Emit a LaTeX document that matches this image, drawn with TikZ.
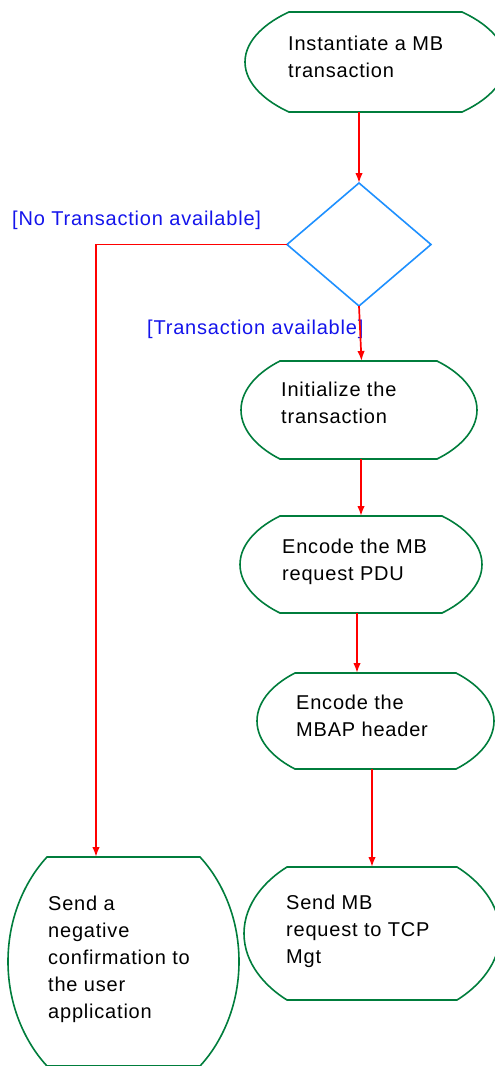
\documentclass[tikz,border=0pt]{standalone}
\usepackage{fontspec}
\setmainfont{Liberation Sans}[LetterSpace=4]
\usetikzlibrary{arrows.meta,calc,shapes.geometric}
\definecolor{termgreen}{RGB}{0,125,60}
\definecolor{decblue}{RGB}{30,144,255}
\definecolor{lblblue}{RGB}{20,20,235}
\newcommand\termshape[7]{%
  \pgfmathsetmacro\tsmid{(#6+#7)/2}%
  \pgfmathsetmacro\tsdxl{#3-#2}%
  \pgfmathsetmacro\tsdxr{#5-#4}%
  \pgfmathsetmacro\tsh{(#7-#6)/2}%
  \draw[term] (#3,#6) -- (#4,#6)
    .. controls ({#4+0.5*\tsdxr},{#6+0.2*\tsh}) and (#5,{\tsmid-0.45*\tsh}) .. (#5,\tsmid)
    .. controls (#5,{\tsmid+0.45*\tsh}) and ({#4+0.5*\tsdxr},{#7-0.2*\tsh}) .. (#4,#7)
    -- (#3,#7)
    .. controls ({#3-0.5*\tsdxl},{#7-0.2*\tsh}) and (#2,{\tsmid+0.45*\tsh}) .. (#2,\tsmid)
    .. controls (#2,{\tsmid-0.45*\tsh}) and ({#3-0.5*\tsdxl},{#6+0.2*\tsh}) .. cycle;
  \node[inner sep=0pt, outer sep=0pt, minimum width={(#5-#2)*1pt}, minimum height={(#7-#6)*1pt}] (#1) at ({(#2+#5)/2},\tsmid) {};
}
\begin{document}
\begin{tikzpicture}[x=1pt,y=-1pt,
  term/.style={draw=termgreen, line width=1.6pt},
  txt/.style={anchor=base west, align=left, inner sep=0pt, font=\fontsize{20}{27}\selectfont, text=black},
  lbl/.style={anchor=base west, inner sep=0pt, font=\fontsize{20}{27}\selectfont, text=lblblue},
  flow/.style={draw=red, line width=1.7pt, -{Latex[length=10pt,width=7.5pt]}},
  decision/.style={diamond, draw=decblue, line width=1.6pt, minimum width=144pt, minimum height=123pt, inner sep=0pt, outer sep=0pt}]
\clip (0,0) rectangle (495,1066);

\termshape{n1}{245}{289}{462}{506}{12}{112}
\node[decision] (dec) at (359,244.5) {};
\termshape{init}{241}{280}{437}{477}{361}{459}
\termshape{enc}{240}{280}{442}{482}{516}{613}
\termshape{mbap}{257}{295}{456}{494}{673}{769}
\termshape{send}{244}{287}{457}{500}{867}{1000}
\termshape{neg}{8}{47}{200}{239}{857}{1066}

\node[txt] (n1t) at (288,77) {Instantiate a MB\\transaction};
\node[txt] (initt) at (281,423) {Initialize the\\transaction};
\node[txt] (enct) at (282,580) {Encode the MB\\request PDU};
\node[txt] (mbapt) at (296,736) {Encode the\\MBAP header};
\node[txt] (sendt) at (286,963) {Send MB\\request to TCP\\Mgt};
\node[txt] (negt) at (48,1018) {Send a\\negative\\confirmation to\\the user\\application};

\node[lbl] (lno) at (12,225) {[No Transaction available]};
\node[lbl] (lyes) at (147,334) {[Transaction available]};

\draw[flow] (n1.south -| dec.north) -- (dec.north);
\draw[flow] (dec.south) -- ([xshift=2.5pt]init.north);
\draw[flow] (dec.west) -| ([xshift=-27.5pt]neg.north);
\draw[flow] (enc.north |- init.south) -- (enc.north);
\draw[flow] ([xshift=-4pt]enc.south) -- ([xshift=-4pt]enc.south |- mbap.north);
\draw[flow] (send.north |- mbap.south) -- (send.north);
\end{tikzpicture}
\end{document}
